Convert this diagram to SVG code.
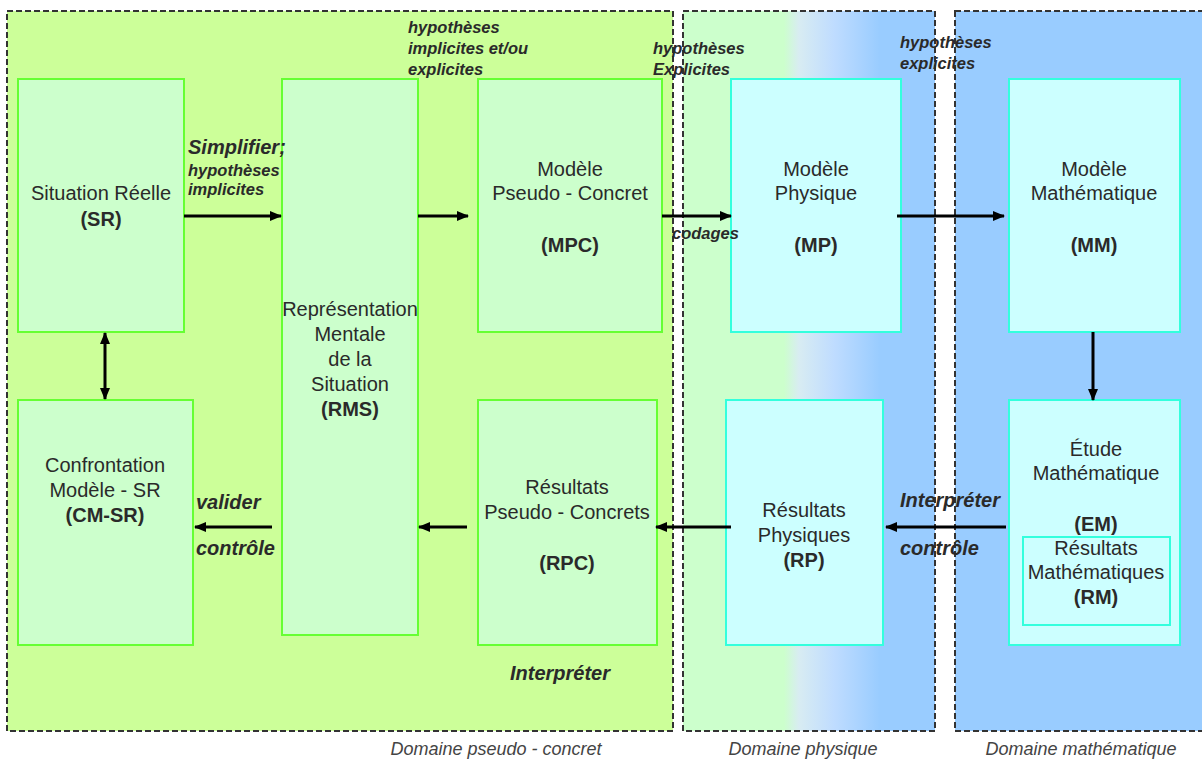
<svg xmlns="http://www.w3.org/2000/svg" width="1202" height="761" viewBox="0 0 1202 761">
<defs>
<linearGradient id="physGrad" x1="0" y1="0" x2="1" y2="0">
<stop offset="0" stop-color="#CCFFCC"/>
<stop offset="0.40" stop-color="#CCFFCC"/>
<stop offset="0.46" stop-color="#D8ECF2"/>
<stop offset="0.60" stop-color="#BFDCFF"/>
<stop offset="0.78" stop-color="#99CCFF"/>
<stop offset="1" stop-color="#99CCFF"/>
</linearGradient>
<marker id="ah" viewBox="0 0 12 10" refX="11" refY="5" markerWidth="12" markerHeight="10" markerUnits="userSpaceOnUse" orient="auto-start-reverse">
<path d="M0,0 L12,5 L0,10 Z" fill="#000"/>
</marker>
<style>
.dom{stroke:#333;stroke-width:2;stroke-dasharray:6,3}
.gn{fill:#CCFFCC;stroke:#66FF33;stroke-width:2}
.cn{fill:#CCFFFF;stroke:#33FFDD;stroke-width:2}
.t{font-family:"Liberation Sans",Arial,sans-serif;font-size:20px;fill:#2a2a2a;text-anchor:middle}
.b{font-weight:bold}
.lab{font-family:"Liberation Sans",Arial,sans-serif;font-weight:bold;font-style:italic;fill:#2a2a2a}
.l20{font-size:20px}
.l16{font-size:16.5px}
.dl{font-family:"Liberation Sans",Arial,sans-serif;font-style:italic;font-size:18px;fill:#444;text-anchor:middle}
.c{stroke:#000;stroke-width:3;fill:none;marker-end:url(#ah)}
</style>
</defs>
<rect width="1202" height="761" fill="#fff"/>
<g id="domains">
<rect class="dom" x="7" y="11" width="666" height="720" fill="#CCFF99"/>
<rect class="dom" x="683" y="11" width="252" height="720" fill="url(#physGrad)"/>
<rect class="dom" x="955" y="11" width="255" height="720" fill="#99CCFF"/>
<text class="dl" x="496" y="755">Domaine pseudo - concret</text>
<text class="dl" x="803" y="755">Domaine physique</text>
<text class="dl" x="1081" y="755">Domaine mathématique</text>
</g>
<g id="SR">
<rect class="gn" x="18" y="79" width="166" height="253"/>
<text class="t" x="101" y="200">Situation Réelle</text>
<text class="t b" x="101" y="226">(SR)</text>
</g>
<g id="RMS">
<rect class="gn" x="282" y="79" width="136" height="556"/>
<text class="t" x="350" y="316">Représentation</text>
<text class="t" x="350" y="341">Mentale</text>
<text class="t" x="350" y="366">de la</text>
<text class="t" x="350" y="391">Situation</text>
<text class="t b" x="350" y="416">(RMS)</text>
</g>
<g id="MPC">
<rect class="gn" x="478" y="79" width="184" height="253"/>
<text class="t" x="570" y="176">Modèle</text>
<text class="t" x="570" y="200">Pseudo - Concret</text>
<text class="t b" x="570" y="252">(MPC)</text>
</g>
<g id="MP">
<rect class="cn" x="731" y="79" width="170" height="253"/>
<text class="t" x="816" y="176">Modèle</text>
<text class="t" x="816" y="200">Physique</text>
<text class="t b" x="816" y="252">(MP)</text>
</g>
<g id="MM">
<rect class="cn" x="1009" y="79" width="171" height="253"/>
<text class="t" x="1094" y="176">Modèle</text>
<text class="t" x="1094" y="200">Mathématique</text>
<text class="t b" x="1094" y="252">(MM)</text>
</g>
<g id="CMSR">
<rect class="gn" x="18" y="400" width="175" height="245"/>
<text class="t" x="105" y="472">Confrontation</text>
<text class="t" x="105" y="497">Modèle - SR</text>
<text class="t b" x="105" y="522">(CM-SR)</text>
</g>
<g id="RPC">
<rect class="gn" x="478" y="400" width="179" height="245"/>
<text class="t" x="567" y="494">Résultats</text>
<text class="t" x="567" y="519">Pseudo - Concrets</text>
<text class="t b" x="567" y="570">(RPC)</text>
</g>
<g id="RP">
<rect class="cn" x="726" y="400" width="157" height="245"/>
<text class="t" x="804" y="517">Résultats</text>
<text class="t" x="804" y="542">Physiques</text>
<text class="t b" x="804" y="567">(RP)</text>
</g>
<g id="EM">
<rect class="cn" x="1009" y="400" width="171" height="245"/>
<text class="t" x="1096" y="456">Étude</text>
<text class="t" x="1096" y="480">Mathématique</text>
<text class="t b" x="1096" y="531">(EM)</text>
</g>
<g id="RM">
<rect class="cn" x="1023" y="537" width="147" height="88"/>
<text class="t" x="1096" y="555">Résultats</text>
<text class="t" x="1096" y="579">Mathématiques</text>
<text class="t b" x="1096" y="604">(RM)</text>
</g>
<g id="connectors">
<line class="c" x1="184" y1="216" x2="281" y2="216"/>
<line class="c" x1="418" y1="216" x2="468" y2="216"/>
<line class="c" x1="662" y1="216" x2="731" y2="216"/>
<line class="c" x1="897" y1="216" x2="1004" y2="216"/>
<line class="c" x1="1093" y1="332" x2="1093" y2="400"/>
<line class="c" x1="1006" y1="527" x2="886" y2="527"/>
<line class="c" x1="731" y1="527" x2="656" y2="527"/>
<line class="c" x1="467" y1="527" x2="419" y2="527"/>
<line class="c" x1="272" y1="527" x2="195" y2="527"/>
<line class="c" x1="105" y1="333" x2="105" y2="399" marker-start="url(#ah)"/>
</g>
<g id="labels">
<text class="lab l20" x="188" y="154">Simplifier;</text>
<text class="lab l16" x="188" y="176">hypothèses</text>
<text class="lab l16" x="188" y="195">implicites</text>
<text class="lab l16" x="408" y="33">hypothèses</text>
<text class="lab l16" x="408" y="54">implicites et/ou</text>
<text class="lab l16" x="408" y="75">explicites</text>
<text class="lab l16" x="653" y="54">hypothèses</text>
<text class="lab l16" x="653" y="75">Explicites</text>
<text class="lab l16" x="672" y="239">codages</text>
<text class="lab l16" x="900" y="48">hypothèses</text>
<text class="lab l16" x="900" y="69">explicites</text>
<text class="lab l20" x="196" y="509">valider</text>
<text class="lab l20" x="196" y="555">contrôle</text>
<text class="lab l20" x="900" y="507">Interpréter</text>
<text class="lab l20" x="900" y="555">contrôle</text>
<text class="lab l20" x="510" y="680">Interpréter</text>
</g>
</svg>
